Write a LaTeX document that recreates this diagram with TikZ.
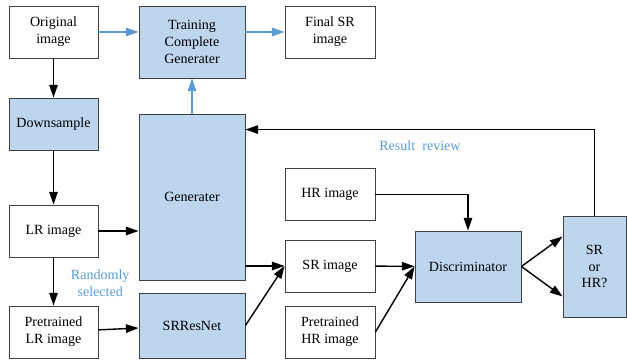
\documentclass[tikz,border=0pt]{standalone}
\usepackage{fontspec}
\setmainfont{Liberation Serif}
\usetikzlibrary{arrows.meta}
\definecolor{boxblue}{RGB}{189,214,238}
\definecolor{lineblue}{RGB}{91,155,213}
\definecolor{edgegray}{RGB}{64,64,64}
\tikzset{
  plain/.style={draw=edgegray, line width=0.6pt, align=center, inner sep=0pt, font=\rmfamily},
  filled/.style={plain, fill=boxblue},
  arr/.style={-{Triangle[length=9pt,width=6pt]}, line width=1pt, black},
  barr/.style={-{Triangle[length=9pt,width=6pt]}, line width=1pt, lineblue},
  note/.style={text=lineblue, align=center, font=\rmfamily}
}
\begin{document}
\begin{tikzpicture}[x=0.025cm, y=-0.025cm]
                \useasboundingbox (0,0) rectangle (627,360);
                % Define node positions
                \node[plain, minimum width=2.225cm, minimum height=1.3cm] (orig) at (53.5,32) {Original\\image};
                \node[filled, minimum width=2.65cm, minimum height=1.8cm] (train) at (192,42) {Training\\Complete\\Generater};
                \node[plain, minimum width=2.25cm, minimum height=1.3cm] (final) at (330,32) {Final SR\\image};
                \node[filled, minimum width=2.225cm, minimum height=1.3cm] (down) at (53.5,124) {Downsample};
                \node[filled, minimum width=2.65cm, minimum height=4.15cm] (gen) at (192,197) {Generater};
                \node[plain, minimum width=2.225cm, minimum height=1.3cm] (lr) at (53.5,231) {LR image};
                \node[plain, minimum width=2.225cm, minimum height=1.3cm] (plr) at (53.5,332) {Pretrained\\LR image};
                \node[filled, minimum width=2.65cm, minimum height=1.625cm] (srres) at (192,325.5) {SRResNet};
                \node[plain, minimum width=2.25cm, minimum height=1.3cm] (hr) at (330,194.5) {HR image};
                \node[plain, minimum width=2.25cm, minimum height=1.3cm] (sr) at (330,266) {SR image};
                \node[plain, minimum width=2.25cm, minimum height=1.3cm] (phr) at (330,332) {Pretrained\\HR image};
                \node[filled, minimum width=2.65cm, minimum height=1.775cm] (disc) at (468,266.5) {Discriminator};
                \node[filled, minimum width=1.575cm, minimum height=2.525cm] (srhr) at (594.5,266.5) {SR\\or\\HR?};

                % Draw arrows
                \draw[barr] (orig) -- (orig -| train.west);
                \draw[barr] (train.east |- final) -- (final);
                \draw[barr] (gen) -- (train);
                \draw[arr] (orig) -- (down);
                \draw[arr] (down) -- (lr);
                \draw[arr] (lr) -- (lr -| gen.west);
                \draw[arr] (lr) -- (plr) node[midway, right=0.3cm, yshift=-0.05cm, note] {Randomly\\selected};
                \draw[arr] (plr) -- (srres);
                \draw[arr] (gen.east |- sr.west) -- (sr.west);
                \draw[arr] (srres.east) -- (sr.west);
                \draw[arr] (hr.east) -| (disc.north);
                \draw[arr] (sr) -- (disc);
                \draw[arr] (phr.east) -- (disc.west);
                \draw[arr] (disc.east) -- ([yshift=0.75cm]srhr.west);
                \draw[arr] (disc.east) -- ([yshift=-0.75cm]srhr.west);

                % Result review loop
                \draw[arr] (srhr.north) |- ([yshift=-0.4cm]gen.north east)
                  node[pos=0.75, below=0.15cm, note] {Result\ \ review};
            \end{tikzpicture}
\end{document}
